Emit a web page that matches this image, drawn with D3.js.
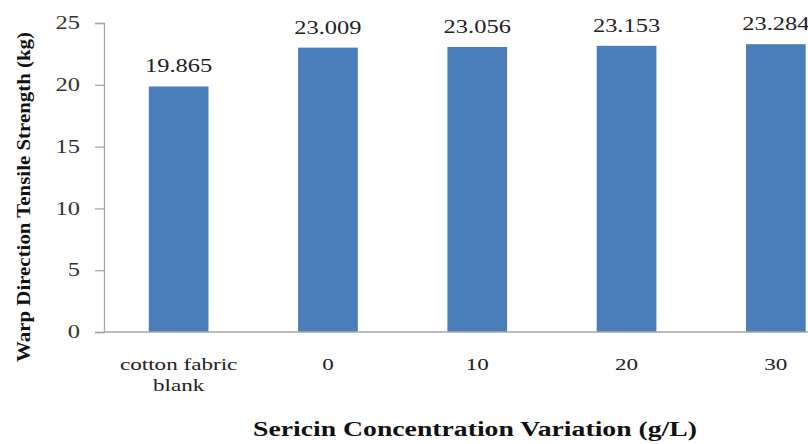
<!DOCTYPE html>
<html>
<head>
<meta charset="utf-8">
<script src="https://cdn.jsdelivr.net/npm/d3@7"></script>
<style>
  html, body { margin: 0; padding: 0; background: #fff; }
  svg { display: block; }
</style>
</head>
<body>
<svg id="chart" width="808" height="444"></svg>
<script>
// Warp direction tensile strength by sericin concentration
const categories = [["cotton fabric", "blank"], ["0"], ["10"], ["20"], ["30"]];
const values = [19.865, 23.009, 23.056, 23.153, 23.284];
const valueLabels = ["19.865", "23.009", "23.056", "23.153", "23.284"];
const yTicks = [0, 5, 10, 15, 20, 25];

const SERIF = "Liberation Serif, Times New Roman, serif";
const WIDEN = 1.36; // wide serif lettering

const svg = d3.select("#chart");
const left = 104, zeroY = 332, topY = 23;
const bandStep = 149.3;

const x = d3.scaleBand()
  .domain(d3.range(categories.length))
  .range([left, left + bandStep * categories.length])
  .paddingInner(0.6)
  .paddingOuter(0.3);

const y = d3.scaleLinear().domain([0, 25]).range([zeroY, topY]);

// stretch a text element horizontally about its own anchor point
function widen(sel) {
  sel.each(function () {
    const t = d3.select(this);
    const ax = +t.attr("x") || 0, ay = +t.attr("y") || 0;
    t.attr("transform", `translate(${ax},${ay}) scale(${WIDEN},1) translate(${-ax},${-ay})`);
  });
}

// y axis
const yAxis = svg.append("g")
  .attr("transform", `translate(${left},0)`)
  .call(d3.axisLeft(y).tickValues(yTicks).tickSize(9).tickPadding(15));
yAxis.select(".domain").attr("stroke", "#a6a6a6").attr("stroke-width", 1.3);
yAxis.selectAll(".tick line").attr("stroke", "#a6a6a6").attr("stroke-width", 1.3);
yAxis.selectAll(".tick text")
  .attr("fill", "#333")
  .attr("font-size", 18)
  .attr("font-family", SERIF)
  .call(widen);

// bars
svg.append("g").selectAll("rect")
  .data(values)
  .join("rect")
  .attr("x", (d, i) => x(i))
  .attr("width", x.bandwidth())
  .attr("y", d => y(d))
  .attr("height", d => zeroY - y(d))
  .attr("fill", "#4a7ebb");

// x axis baseline
svg.append("line")
  .attr("x1", left).attr("x2", 808)
  .attr("y1", zeroY).attr("y2", zeroY)
  .attr("stroke", "#a6a6a6").attr("stroke-width", 1.3);

// value labels above the bars
svg.append("g").selectAll("text")
  .data(values)
  .join("text")
  .attr("x", (d, i) => x(i) + x.bandwidth() / 2)
  .attr("y", d => y(d) - 14)
  .attr("text-anchor", "middle")
  .attr("fill", "#222")
  .attr("font-size", 18)
  .attr("font-family", SERIF)
  .text((d, i) => valueLabels[i])
  .call(widen);

// category labels (multi-line)
svg.append("g").selectAll("g")
  .data(categories)
  .join("g")
  .each(function (lines, i) {
    const cx = x(i) + x.bandwidth() / 2;
    d3.select(this).selectAll("text")
      .data(lines)
      .join("text")
      .attr("x", cx)
      .attr("y", (d, j) => 370 + j * 21)
      .attr("text-anchor", "middle")
      .attr("fill", "#222")
      .attr("font-size", 17)
      .attr("font-family", SERIF)
      .text(d => d)
      .call(widen);
  });

// axis titles
svg.append("text")
  .attr("x", 475).attr("y", 436)
  .attr("text-anchor", "middle")
  .attr("fill", "#111")
  .attr("font-size", 20)
  .attr("font-weight", "bold")
  .attr("font-family", SERIF)
  .attr("textLength", 444)
  .attr("lengthAdjust", "spacingAndGlyphs")
  .text("Sericin Concentration Variation (g/L)");

svg.append("text")
  .attr("transform", "translate(30,197) rotate(-90)")
  .attr("text-anchor", "middle")
  .attr("fill", "#111")
  .attr("font-size", 18)
  .attr("font-weight", "bold")
  .attr("font-family", SERIF)
  .attr("textLength", 330)
  .attr("lengthAdjust", "spacingAndGlyphs")
  .text("Warp Direction Tensile Strength (kg)");
</script>
</body>
</html>
